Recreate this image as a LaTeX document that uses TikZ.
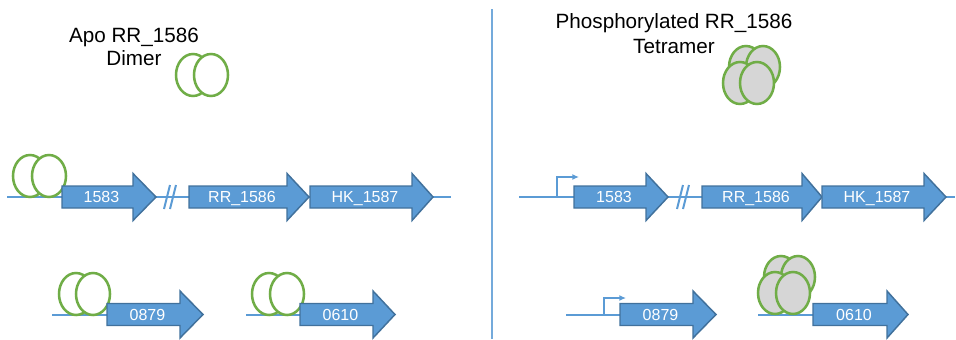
\documentclass[tikz,border=0pt]{standalone}
\usepackage{fontspec}
\setmainfont{Liberation Sans}
\usetikzlibrary{shapes.geometric,arrows.meta}

\definecolor{geneblue}{HTML}{5B9BD5}
\definecolor{geneedge}{HTML}{41719C}
\definecolor{protgreen}{HTML}{70AD47}
\definecolor{phosgray}{HTML}{D6D6D6}

% gene arrow: label name, left end, head base, tip, row y, text
\newcommand\genearrow[6]{%
  \draw[genebody] (#2,#5-11) -- (#3,#5-11) -- (#3,#5-23.5) -- (#4,#5)
    -- (#3,#5+23.5) -- (#3,#5+11) -- (#2,#5+11) -- cycle;
  \node[genelabel] (#1) at ({(#2+#3)/2+4},#5+5.5) {#6};
}
% break mark on the chromosome line, centred at x
\newcommand\chrombreak[2]{%
  \draw[dna] (#2-6,#1+12) -- (#2,#1-12);
  \draw[dna] (#2,#1+12) -- (#2+6,#1-12);
}

\tikzset{
  dna/.style={draw=geneblue, line width=1.5pt},
  genebody/.style={fill=geneblue, draw=geneedge, line width=1.1pt, line join=miter},
  genelabel/.style={text=white, font=\fontsize{12pt}{14pt}\selectfont, anchor=base, inner sep=0pt},
  title/.style={font=\fontsize{15.5pt}{18pt}\selectfont, anchor=base, inner sep=0pt},
  mono/.style={ellipse, draw=protgreen, line width=1.9pt, fill=white,
    minimum width=25.5pt, minimum height=31.5pt, inner sep=0pt},
  phos/.style={mono, fill=phosgray},
  promoter/.style={draw=geneblue, line width=1pt, -{Latex[length=5pt,width=4.5pt]}},
}

\begin{document}
\begin{tikzpicture}[x=0.75pt,y=-0.75pt]
\useasboundingbox (0,0) rectangle (956,339);

% divider between the two states
\draw[draw=geneblue!85, line width=2.2pt] (492,9) -- (492,339);

% ---------- left: apo dimer ----------
\node[title] (apo) at (134,42) {Apo RR\_1586};
\node[title] (apodim) at (134,65) {Dimer};
\node[mono] (fd1) at (193,75) {};
\node[mono] (fd2) at (211,75) {};

% operon row
\coordinate (la) at (7,197);
\coordinate (lb) at (451,197);
\draw[dna] (la) -- (lb);
\chrombreak{197}{170}
\node[mono] (ld1) at (30,176) {};
\node[mono] (ld2) at (49,176) {};
\genearrow{l1583}{62}{133}{156}{197}{1583}
\genearrow{l1586}{189}{287}{309}{197}{RR\_1586}
\genearrow{l1587}{310}{412}{433}{197}{HK\_1587}

% target genes
\coordinate (lc) at (52,315);
\coordinate (ld) at (107,315);
\draw[dna] (lc) -- (ld);
\node[mono] (le1) at (76,294) {};
\node[mono] (le2) at (93,294) {};
\genearrow{l0879}{107}{180}{203}{314.5}{0879}

\coordinate (le) at (246,315);
\coordinate (lf) at (300,315);
\draw[dna] (le) -- (lf);
\node[mono] (lg1) at (269,294) {};
\node[mono] (lg2) at (287,294) {};
\genearrow{l0610}{300}{373}{395}{314.5}{0610}

% ---------- right: phosphorylated tetramer ----------
\node[title] (pho) at (674,28) {Phosphorylated RR\_1586};
\node[title] (photet) at (674,53) {Tetramer};
\node[phos] (ft1) at (746,67) {};
\node[phos] (ft2) at (763,67) {};
\node[phos] (ft3) at (740,83) {};
\node[phos] (ft4) at (757,83) {};

% operon row
\coordinate (ra) at (519,197);
\coordinate (rb) at (955,197);
\draw[dna] (ra) -- (rb);
\chrombreak{197}{683}
\coordinate (rp1) at (557,197);
\coordinate (rp2) at (557,177);
\coordinate (rp3) at (579,177);
\draw[promoter] (rp1) -- (rp2) -- (rp3);
\genearrow{r1583}{574}{646}{668}{197}{1583}
\genearrow{r1586}{702}{802}{822}{197}{RR\_1586}
\genearrow{r1587}{822}{924}{946}{197}{HK\_1587}

% target genes
\coordinate (rc) at (566,315);
\coordinate (rd) at (620,315);
\draw[dna] (rc) -- (rd);
\coordinate (rq1) at (604,315);
\coordinate (rq2) at (604,298);
\coordinate (rq3) at (626,298);
\draw[promoter] (rq1) -- (rq2) -- (rq3);
\genearrow{r0879}{620}{693}{716}{314.5}{0879}

\coordinate (re) at (758,315);
\coordinate (rf) at (813,315);
\draw[dna] (re) -- (rf);
\node[phos] (bt1) at (781,277) {};
\node[phos] (bt2) at (798,277) {};
\node[phos] (bt3) at (775,293) {};
\node[phos] (bt4) at (793,293) {};
\genearrow{r0610}{813}{887}{908}{314.5}{0610}
\end{tikzpicture}
\end{document}
